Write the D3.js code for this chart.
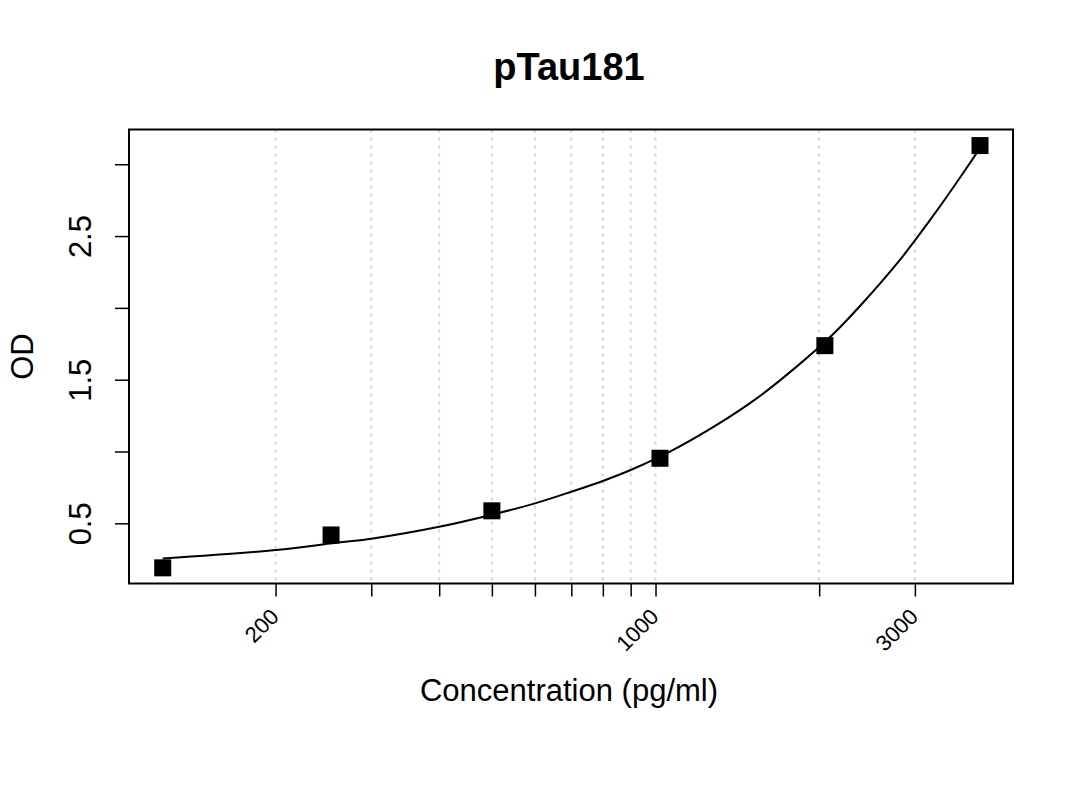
<!DOCTYPE html>
<html>
<head>
<meta charset="utf-8">
<script src="https://cdn.jsdelivr.net/npm/d3@7"></script>
<style>
  body { margin: 0; background: #fff; }
  svg { font-family: "Liberation Sans", Arial, sans-serif; }
</style>
</head>
<body>
<svg id="chart" width="1080" height="810"></svg>
<script>
// стандарты: концентрация (pg/ml) и OD
const concentrations = [124, 253, 500, 1019, 2049, 3953];
const odValues = [0.190, 0.419, 0.587, 0.953, 1.737, 3.130];

// подогнанная кривая
const curveConc = [124, 200, 263, 300, 400, 500, 600, 700, 800, 900, 1063, 1296, 1535, 1818, 2123, 2394, 2816, 3013, 3198, 3431, 3681, 3953];
const curveOD = [0.255, 0.314, 0.368, 0.393, 0.476, 0.560, 0.639, 0.720, 0.795, 0.871, 0.999, 1.185, 1.370, 1.591, 1.818, 2.025, 2.334, 2.479, 2.611, 2.772, 2.939, 3.112];

// деления осей
const xTicks = [200, 300, 400, 500, 600, 700, 800, 900, 1000, 2000, 3000];
const xTickLabels = [200, 1000, 3000];
const yTicks = [0.5, 1, 1.5, 2, 2.5, 3];
const yTickLabels = [0.5, 1.5, 2.5];

const titleText = "pTau181";
const xTitle = "Concentration (pg/ml)";
const yTitle = "OD";

const svg = d3.select("#chart");
const area = { left: 129, right: 1013, top: 129.5, bottom: 583.5 };

const scX = d3.scaleLog()
    .domain([107.5, 4546])
    .range([area.left, area.right]);

const scY = d3.scaleLinear()
    .domain([0.081, 3.242])
    .range([area.bottom, area.top]);

// вертикальная сетка
svg.append("g")
    .selectAll("line")
    .data(xTicks)
    .enter()
    .append("line")
    .attr("x1", d => scX(d))
    .attr("x2", d => scX(d))
    .attr("y1", area.top)
    .attr("y2", area.bottom)
    .style("stroke", "#d3d3d3")
    .style("stroke-width", 2)
    .style("stroke-dasharray", "3,5");

// ось X
const gX = svg.append("g")
    .attr("transform", `translate(0, ${area.bottom})`)
    .call(d3.axisBottom(scX)
        .tickValues(xTicks)
        .tickSizeOuter(0)
        .tickSize(13)
        .tickFormat(d => xTickLabels.includes(d) ? String(d) : ""));
gX.select(".domain").remove();
gX.selectAll(".tick line").style("stroke", "#000").style("stroke-width", 1.5);
gX.selectAll(".tick text")
    .attr("x", null).attr("y", null).attr("dy", null)
    .attr("transform", "translate(4, 34.5) rotate(-45)")
    .style("text-anchor", "end")
    .style("font-size", "22px")
    .style("font-family", "'Liberation Sans', Arial, sans-serif")
    .style("fill", "#000");

// ось Y
const gY = svg.append("g")
    .attr("transform", `translate(${area.left}, 0)`)
    .call(d3.axisLeft(scY)
        .tickValues(yTicks)
        .tickSizeOuter(0)
        .tickSize(14)
        .tickFormat(d => yTickLabels.includes(d) ? d3.format(".1f")(d) : ""));
gY.select(".domain").remove();
gY.selectAll(".tick line").style("stroke", "#000").style("stroke-width", 1.5);
gY.selectAll(".tick text")
    .attr("x", null).attr("y", null).attr("dy", null)
    .attr("transform", "translate(-38, 0) rotate(-90)")
    .style("text-anchor", "middle")
    .style("font-size", "31px")
    .style("font-family", "'Liberation Sans', Arial, sans-serif")
    .style("fill", "#000");

// кривая
const lineGen = d3.line()
    .x(d => scX(d.c))
    .y(d => scY(d.od))
    .curve(d3.curveCatmullRom.alpha(0.5));
const curveData = curveConc.map((c, i) => ({ c: c, od: curveOD[i] }));
svg.append("path")
    .datum(curveData)
    .attr("d", lineGen)
    .style("fill", "none")
    .style("stroke", "#000")
    .style("stroke-width", 2);

// точки
const size = 17;
const pointData = concentrations.map((c, i) => ({ c: c, od: odValues[i] }));
svg.selectAll(".pt")
    .data(pointData)
    .enter()
    .append("rect")
    .attr("class", "pt")
    .attr("x", d => scX(d.c) - size / 2)
    .attr("y", d => scY(d.od) - size / 2)
    .attr("width", size)
    .attr("height", size)
    .style("fill", "#000");

// рамка
svg.append("rect")
    .attr("x", area.left)
    .attr("y", area.top)
    .attr("width", area.right - area.left)
    .attr("height", area.bottom - area.top)
    .style("fill", "none")
    .style("stroke", "#000")
    .style("stroke-width", 2);

// подписи
svg.append("text")
    .attr("x", 569)
    .attr("y", 80)
    .attr("text-anchor", "middle")
    .style("font-size", "38px")
    .style("font-weight", "bold")
    .text(titleText);

svg.append("text")
    .attr("x", 569)
    .attr("y", 701)
    .attr("text-anchor", "middle")
    .style("font-size", "31px")
    .text(xTitle);

svg.append("text")
    .attr("transform", `translate(33, ${(area.top + area.bottom) / 2}) rotate(-90)`)
    .attr("text-anchor", "middle")
    .style("font-size", "31px")
    .text(yTitle);
</script>
</body>
</html>
